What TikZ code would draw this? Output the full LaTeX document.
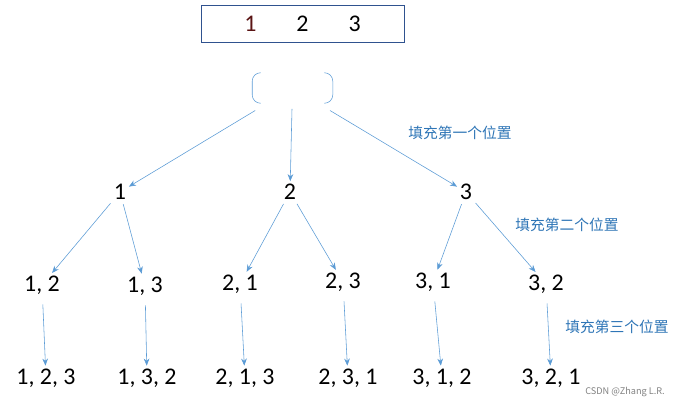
\documentclass[tikz,border=0pt]{standalone}
\usepackage{fontspec}
\setmainfont{Carlito}
\newfontfamily\cjk{Noto Sans CJK SC}
\usetikzlibrary{arrows.meta}
\definecolor{arrowblue}{RGB}{91,155,213}
\definecolor{labelblue}{RGB}{46,117,182}
\definecolor{boxblue}{RGB}{47,82,143}
\tikzset{
    num/.style={inner sep=1pt, font=\fontsize{17}{19}\selectfont},
    arr/.style={-{Stealth[length=5pt,width=4pt]}, arrowblue, thin, shorten <=2pt, shorten >=1pt},
    note/.style={labelblue, font=\cjk\fontsize{10.5}{12}\selectfont},
}
\begin{document}
\begin{tikzpicture}[x=0.025cm, y=-0.025cm]
        \useasboundingbox (0,0) rectangle (684,408);
        % top box
        \node [draw=boxblue, semithick, minimum width=203*0.025cm, minimum height=37*0.025cm, num] (input) at (302.5,23.5)
            {\textcolor[RGB]{90,20,20}{1}\hspace{1cm}2\hspace{1cm}3};

        % empty slot
        \node [minimum width=80*0.025cm, minimum height=30*0.025cm] (root) at (292.5,88){};
        \draw[arrowblue] ([xshift=6pt]root.north west) arc[start angle=90,end angle=180,radius=6pt]
            -- ([yshift=6pt]root.south west) arc[start angle=180,end angle=270,radius=6pt];
        \draw[arrowblue] ([xshift=-6pt]root.north east) arc[start angle=90,end angle=0,radius=6pt]
            -- ([yshift=6pt]root.south east) arc[start angle=0,end angle=-90,radius=6pt];

        % first level
        \node [num] (n1) at (120,192){1};
        \node [num] (n2) at (290,192){2};
        \node [num] (n3) at (466,192){3};

        % second level
        \node [num] (n12) at (42,285){1, 2};
        \node [num] (n13) at (145,286){1, 3};
        \node [num] (n21) at (240,284){2, 1};
        \node [num] (n23) at (343,282){2, 3};
        \node [num] (n31) at (433,282){3, 1};
        \node [num] (n32) at (546,284){3, 2};

        % third level
        \node [num] (n123) at (46,378){1, 2, 3};
        \node [num] (n132) at (147,378){1, 3, 2};
        \node [num] (n213) at (245,378){2, 1, 3};
        \node [num] (n231) at (348,378){2, 3, 1};
        \node [num] (n312) at (442,378){3, 1, 2};
        \node [num] (n321) at (551,378){3, 2, 1};

        \draw[arr, shorten <=10pt] (root) -- (n1);
        \draw[arr, shorten <=4pt] (root) -- (n2);
        \draw[arr, shorten <=10pt] (root) -- (n3);
        \node [note] (fill1) at (460,133){填充第一个位置};

        \draw[arr] (n1) -- (n12);
        \draw[arr] (n1) -- (n13);
        \draw[arr] (n2) -- (n21);
        \draw[arr] (n2) -- (n23);
        \draw[arr] (n3) -- (n31);
        \draw[arr] (n3) -- (n32);
        \node [note] (fill2) at (567,225){填充第二个位置};

        \draw[arr, shorten <=6pt] (n12) -- (n123);
        \draw[arr, shorten <=6pt] (n13) -- (n132);
        \draw[arr, shorten <=6pt] (n21) -- (n213);
        \draw[arr, shorten <=6pt] (n23) -- (n231);
        \draw[arr, shorten <=6pt] (n31) -- (n312);
        \draw[arr, shorten <=6pt] (n32) -- (n321);
        \node [note] (fill3) at (617,327){填充第三个位置};

        \node [gray, font=\fontsize{6.5}{8}\selectfont] (mark) at (625,392){\cjk CSDN @Zhang L.R.};
\end{tikzpicture}
\end{document}
